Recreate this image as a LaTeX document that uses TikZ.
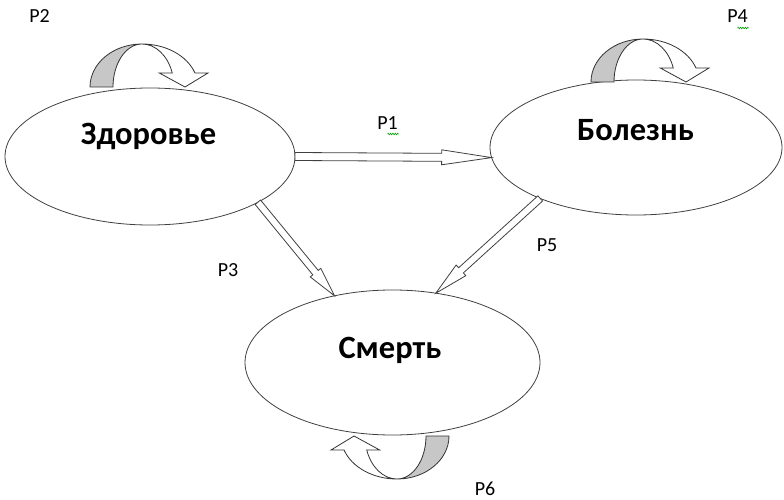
\documentclass[tikz,border=0pt]{standalone}
\usepackage{fontspec}
\setmainfont{Carlito}
\usetikzlibrary{calc,shapes.geometric,decorations.pathmorphing}

% hollow block arrow: #1 start, #2 tip, #3 half shaft width, #4 half head width, #5 head length
\newcommand\hollowarrow[5]{%
  \path ($(#2)!#5!(#1)$) coordinate (hb);
  \draw[arrowline] ($(#1)!#3!90:(#2)$) -- ($(hb)!#3!90:(#2)$) -- ($(hb)!#4!90:(#2)$)
    -- (#2) -- ($(hb)!#4!-90:(#2)$) -- ($(hb)!#3!-90:(#2)$) -- ($(#1)!#3!-90:(#2)$) -- cycle;
}

% curved self-loop ribbon arrow: #1 base centre, #2 rotation
\newcommand\loopmark[2]{%
  \begin{scope}[shift={#1}, rotate=#2]
    \filldraw[loopline, fill=black!22]
      (-52,0) arc[start angle=180, end angle=270, x radius=52, y radius=43]
      arc[start angle=270, end angle=180, x radius=29, y radius=43] -- cycle;
    \filldraw[loopline, fill=white]
      (0,-43) arc[start angle=270, end angle=341, x radius=56, y radius=43]
      -- (66,-14) -- (43,0) -- (17.3,-14) -- (30.26,-14)
      arc[start angle=341, end angle=270, x radius=32, y radius=43] -- cycle;
  \end{scope}%
}

\begin{document}
\begin{tikzpicture}[x=1pt,y=-1pt,
  state/.style={draw=black!75, line width=0.8pt, ellipse, inner sep=0pt, outer sep=0pt},
  statetext/.style={font=\bfseries\fontsize{32.5}{32.5}\selectfont, anchor=base, inner sep=0pt},
  plabel/.style={font=\fontsize{20}{20}\selectfont, anchor=base, inner sep=0pt},
  arrowline/.style={draw=black!75, line width=0.8pt, fill=white, line join=miter},
  loopline/.style={draw=black!80, line width=0.8pt},
  squiggle/.style={draw=green!60!black, line width=0.6pt, decorate,
    decoration={zigzag, segment length=2.4pt, amplitude=0.8pt}}]
\useasboundingbox (0,0) rectangle (784,500);

% states
\node[state, minimum width=290pt, minimum height=137pt] (hz) at (150,156.5) {};
\node[state, minimum width=292pt, minimum height=135pt] (bl) at (636,147.5) {};
\node[state, minimum width=295pt, minimum height=145pt] (sm) at (392.5,362.5) {};

\node[statetext] (hzt) at (148.5,145) {Здоровье};
\node[statetext] (blt) at (635.5,140) {Болезнь};
\node[statetext] (smt) at (390,358) {Смерть};

% transitions
\hollowarrow{hz.-0.6}{bl.184.6}{4pt}{7.5pt}{50pt}
\hollowarrow{hz.-23.3}{sm.131.3}{3.5pt}{6.8pt}{30pt}
\hollowarrow{bl.208}{sm.58.5}{3.5pt}{7.2pt}{34pt}

% self-loops
\loopmark{(142,87)}{0}
\loopmark{(643,82)}{0}
\loopmark{(397,436)}{180}

% probabilities
\node[plabel] (p1) at (387.5,129) {P1};
\node[plabel] (p2) at (39.5,23) {P2};
\node[plabel] (p3) at (228,276) {P3};
\node[plabel] (p4) at (737.5,23) {P4};
\node[plabel] (p5) at (547,251) {P5};
\node[plabel] (p6) at (485,495) {P6};

\draw[squiggle] ($(p1.base)+(0,5)$) -- ($(p1.base)+(11,5)$);
\draw[squiggle] ($(p4.base)+(0,5)$) -- ($(p4.base)+(11,5)$);
\end{tikzpicture}
\end{document}
